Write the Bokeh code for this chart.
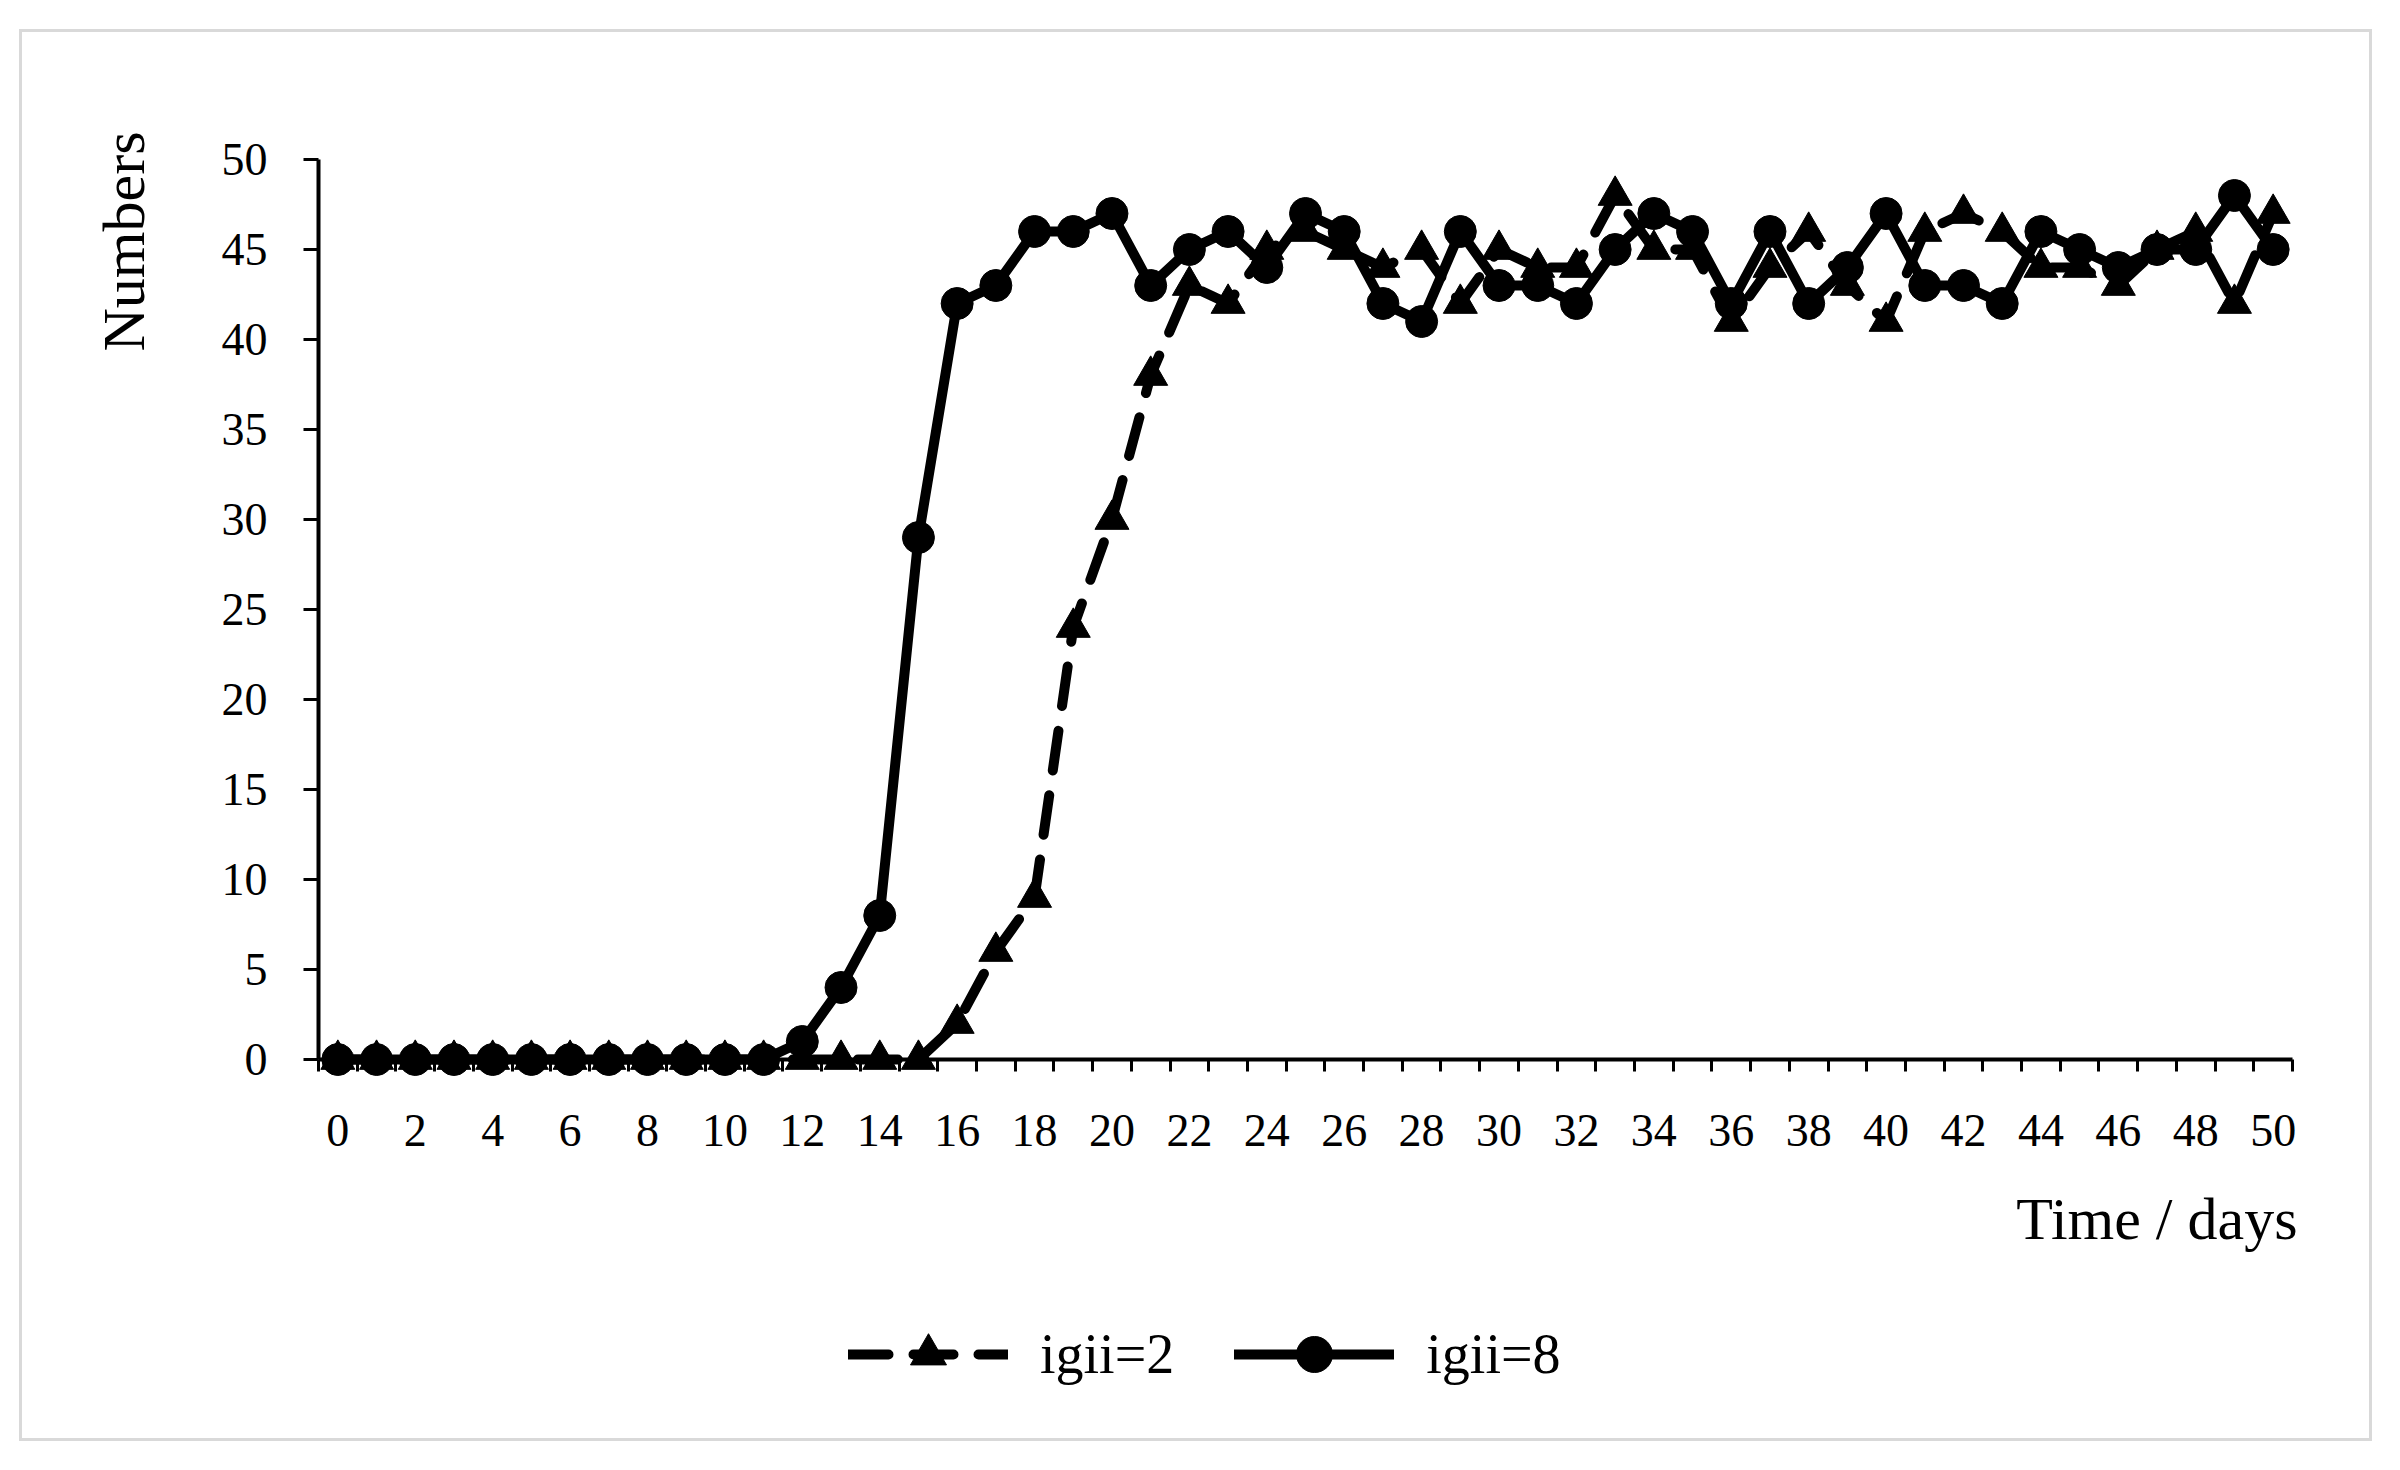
import math
from bokeh.plotting import figure
from bokeh.models import FixedTicker, Legend, LegendItem, Range1d, Label, LinearAxis
from bokeh.embed import file_html
from bokeh.resources import INLINE

# ---- data ----
days = list(range(51))
igii2 = [0] * 16 + [2, 6, 9, 24, 30, 38, 43, 42, 45, 46, 45, 44, 45, 42, 45, 44, 44, 48,
                    45, 45, 41, 44, 46, 43, 41, 46, 47, 46, 44, 44, 43, 45, 46, 42, 47]
igii8 = [0] * 12 + [1, 4, 8, 29, 42, 43, 46, 46, 47, 43, 45, 46, 44, 47, 46, 42, 41, 46,
                    43, 43, 42, 45, 47, 46, 42, 46, 42, 44, 47, 43, 43, 42, 46, 45, 44,
                    45, 45, 48, 45]
x_tick_labels = list(range(0, 51, 2))
y_tick_labels = list(range(0, 51, 5))
series_names = ["igii=2", "igii=8"]

FONT = "Liberation Serif"

# ---- layout (page pixels) ----
W, H = 2353, 1412
OX, OY = 21, 31                # canvas origin on page
AX_L, AX_R = 317, 2291         # x axis ends on page
AX_T, AX_B = 158, 1058         # y axis ends on page
X_LO, X_HI = -0.5, 50.5
Y_LO, Y_HI = 0, 50
ppx = (AX_R - AX_L) / (X_HI - X_LO)
ppy = (AX_B - AX_T) / (Y_HI - Y_LO)
x0 = X_LO - (AX_L - OX) / ppx
x1 = x0 + W / ppx
y1 = Y_HI + (AX_T - OY) / ppy
y0 = y1 - H / ppy


def dx(px):
    return x0 + (px - OX) / ppx


def dy(py):
    return y1 - (py - OY) / ppy


p = figure(width=W, height=H, output_backend="svg", toolbar_location=None,
           x_range=Range1d(x0, x1), y_range=Range1d(y0, y1),
           x_axis_location=None, y_axis_location=None,
           min_border=0)
p.margin = (29, 0, 0, 19)
p.styles = {"border": "3px solid #d9d9d9"}
p.outline_line_color = None
p.background_fill_color = "white"
p.border_fill_color = "white"

# axes
xa = LinearAxis(fixed_location=0, bounds=(X_LO, X_HI),
                ticker=FixedTicker(ticks=x_tick_labels,
                                   minor_ticks=[d - 0.5 for d in range(52)]))
xa.major_tick_out = 0
xa.major_tick_in = 0
xa.minor_tick_out = 12
xa.minor_tick_in = 0
xa.minor_tick_line_width = 3
xa.minor_tick_line_color = "black"
xa.axis_line_width = 4
xa.axis_line_color = "black"
xa.major_label_text_font = FONT
xa.major_label_text_font_size = "46px"
xa.major_label_text_color = "black"
xa.major_label_standoff = 43
p.add_layout(xa, "below")

ya = LinearAxis(fixed_location=X_LO, bounds=(Y_LO, Y_HI),
                ticker=FixedTicker(ticks=y_tick_labels))
ya.minor_tick_line_color = None
ya.major_tick_out = 15
ya.major_tick_in = 0
ya.major_tick_line_width = 3
ya.major_tick_line_color = "black"
ya.axis_line_width = 4
ya.axis_line_color = "black"
ya.major_label_text_font = FONT
ya.major_label_text_font_size = "46px"
ya.major_label_text_color = "black"
ya.major_label_standoff = 36
p.add_layout(ya, "left")

p.xgrid.grid_line_color = None
p.ygrid.grid_line_color = None

# series
l2 = p.line(days, igii2, line_color="black", line_width=10, line_dash="40 25",
            line_cap="round", line_join="round")
s2 = p.scatter(days, igii2, marker="triangle", size=34, fill_color="black",
               line_color="black")
l8 = p.line(days, igii8, line_color="black", line_width=10, line_join="round",
            line_cap="round")
s8 = p.scatter(days, igii8, marker="circle", size=32, fill_color="black",
               line_color="black")

# axis titles
p.add_layout(Label(x=dx(122), y=dy(130), text="Numbers", angle=math.pi / 2,
                   text_align="right", text_baseline="middle",
                   text_font=FONT, text_font_size="60px", text_color="black"))
p.add_layout(Label(x=dx(2296), y=dy(1217), text="Time / days",
                   text_align="right", text_baseline="middle",
                   text_font=FONT, text_font_size="60px", text_color="black"))

legend = Legend(items=[LegendItem(label=series_names[0], renderers=[l2, s2]),
                       LegendItem(label=series_names[1], renderers=[l8, s8])],
                orientation="horizontal", location=(826, 45),
                border_line_color=None, background_fill_alpha=0,
                label_text_font=FONT, label_text_font_size="56px",
                label_text_color="black", glyph_width=160, glyph_height=90,
                spacing=60, label_standoff=32, padding=10, margin=0)
p.add_layout(legend, "center")

open("out.html", "w").write(file_html(p, INLINE))
